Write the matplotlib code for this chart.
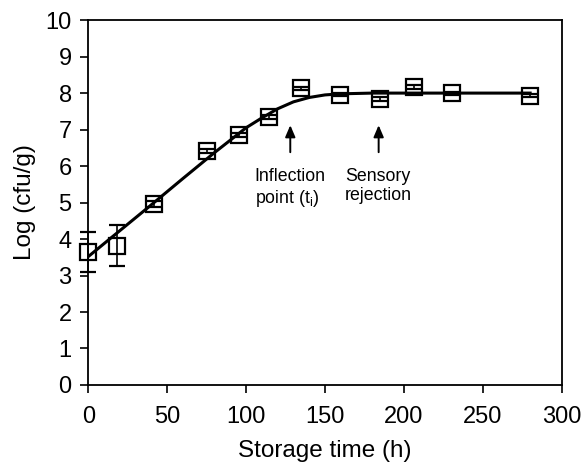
import matplotlib
matplotlib.use("Agg")
import matplotlib.pyplot as plt

plt.rcParams['font.family'] = ['Liberation Sans', 'DejaVu Sans']
plt.rcParams['mathtext.fontset'] = 'custom'
plt.rcParams['mathtext.rm'] = 'Liberation Sans'
plt.rcParams['mathtext.it'] = 'Liberation Sans'

# Observed counts
time_h = [0, 18.5, 41.5, 75, 95.5, 114.5, 135, 159.5, 185, 206.5, 230.5, 280]
log_cfu = [3.65, 3.82, 4.96, 6.42, 6.86, 7.35, 8.13, 7.96, 7.84, 8.16, 7.99, 7.93]
err_low = [0.55, 0.56, 0.08, 0.05, 0.05, 0.05, 0.05, 0.05, 0.05, 0.05, 0.05, 0.05]
err_high = [0.55, 0.56, 0.08, 0.05, 0.05, 0.05, 0.05, 0.05, 0.05, 0.05, 0.05, 0.05]

# Fitted growth curve
curve_t = [0, 20, 40, 60, 80, 100, 110, 120, 130, 140, 150, 160, 180, 200, 240, 280]
curve_y = [3.52, 4.23, 4.94, 5.66, 6.37, 7.05, 7.32, 7.57, 7.76, 7.88, 7.95, 7.98, 8.0, 8.0, 8.0, 8.0]

# Annotations
arrow_x = [128, 184]
arrow_labels = ["Inflection\npoint (t$_\\mathregular{i}$)", "Sensory\nrejection"]

fig = plt.figure(figsize=(5.84, 4.68), dpi=100)
ax = fig.add_axes([0.1512, 0.1774, 0.9618 - 0.1512, 0.957 - 0.1774])

ax.plot(curve_t, curve_y, color='black', lw=2.2, zorder=2)
ax.errorbar(time_h, log_cfu, yerr=[err_low, err_high], fmt='s', ms=12,
            mfc='none', mec='black', mew=1.6, ecolor='black', elinewidth=1.2,
            capsize=6, capthick=1.2, zorder=3, clip_on=False)

for xa, lab in zip(arrow_x, arrow_labels):
    ax.annotate('', xy=(xa, 7.12), xytext=(xa, 6.38),
                arrowprops=dict(arrowstyle='-|>,head_length=0.7,head_width=0.3',
                                color='black', lw=1.4, shrinkA=0, shrinkB=0))
    ax.text(xa, 5.95, lab, ha='center', va='top', multialignment='left',
            fontsize=12.8, linespacing=1.2)

ax.set_xlim(0, 300)
ax.set_ylim(0, 10)
ax.set_xticks(range(0, 301, 50))
ax.set_yticks(range(0, 11))
ax.tick_params(axis='both', direction='out', length=6, width=1.2, labelsize=17, pad=6)
ax.tick_params(axis='x', pad=9)
for s in ax.spines.values():
    s.set_linewidth(1.3)
ax.set_xlabel('Storage time (h)', fontsize=17.5, labelpad=9)
ax.set_ylabel('Log (cfu/g)', fontsize=17.5, labelpad=7)

fig.savefig('out.png', dpi=100)
